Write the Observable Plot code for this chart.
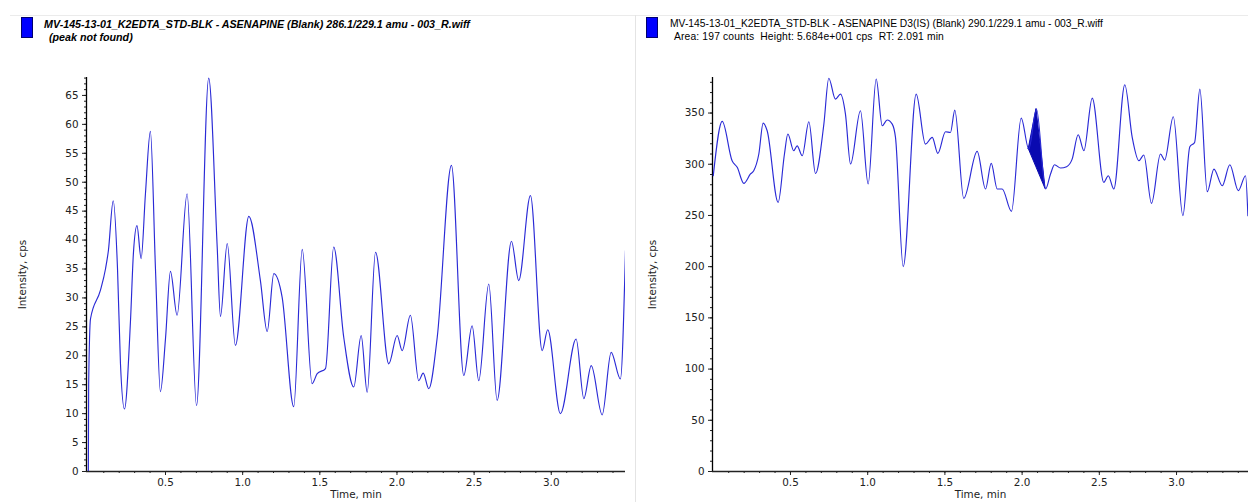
<!DOCTYPE html>
<html><head><meta charset="utf-8">
<script src="https://cdn.jsdelivr.net/npm/d3@7"></script>
<script src="https://cdn.jsdelivr.net/npm/@observablehq/plot@0.6"></script>
<style>
html,body{margin:0;padding:0;background:#fff;}
#root{position:relative;width:1248px;height:502px;overflow:hidden;font-family:"Liberation Sans",Arial,sans-serif;background:#fff;}
.hline{position:absolute;left:10px;top:15px;width:1238px;height:1px;background:#ebebeb;}
.vline{position:absolute;left:635px;top:15px;width:1px;height:487px;background:#e4e4e4;}
.sq{position:absolute;top:17px;width:10px;height:19px;background:#0000ff;border:1px solid #000070;}
.tx{position:absolute;white-space:pre;color:#000;line-height:12px;}
.plot{position:absolute;top:60px;}
</style>
</head><body>
<div id="root">
  <div class="hline"></div>
  <div class="vline"></div>
  <div class="sq" style="left:21px"></div>
  <div class="tx" id="lt1" style="left:44px;top:18px;font-size:10.7px;font-weight:bold;font-style:italic;"></div>
  <div class="tx" id="lt2" style="left:49px;top:31px;font-size:10.7px;font-weight:bold;font-style:italic;"></div>
  <div class="sq" style="left:646px"></div>
  <div class="tx" id="rt1" style="left:670px;top:18px;font-size:10.3px;"></div>
  <div class="tx" id="rt2" style="left:674px;top:31px;font-size:10.3px;letter-spacing:0.15px;"></div>
  <div class="plot" id="left" style="left:0px"></div>
  <div class="plot" id="right" style="left:636px"></div>
</div>
<script>
// ---- text ----
const leftTitle = "MV-145-13-01_K2EDTA_STD-BLK - ASENAPINE (Blank) 286.1/229.1 amu - 003_R.wiff";
const leftSubtitle = "(peak not found)";
const rightTitle = "MV-145-13-01_K2EDTA_STD-BLK - ASENAPINE D3(IS) (Blank) 290.1/229.1 amu - 003_R.wiff";
const rightSubtitle = "Area: 197 counts  Height: 5.684e+001 cps  RT: 2.091 min";
const xLabel = "Time, min";
const yLabel = "Intensity, cps";

// ---- ticks ----
const xTicks = [0.5, 1.0, 1.5, 2.0, 2.5, 3.0];
const leftYTicks = [0, 5, 10, 15, 20, 25, 30, 35, 40, 45, 50, 55, 60, 65];
const rightYTicks = [0, 50, 100, 150, 200, 250, 300, 350];

// ---- left chromatogram (ASENAPINE, peak not found) ----
const leftTime = [0.000, 0.002, 0.014, 0.078, 0.111, 0.130, 0.161, 0.189, 0.208, 0.234, 0.273, 0.292, 0.315, 0.342, 0.370, 0.402, 0.435, 0.467, 0.500, 0.532, 0.575, 0.640, 0.701, 0.780, 0.835, 0.856, 0.900, 0.953, 1.040, 1.115, 1.159, 1.202, 1.256, 1.331, 1.386, 1.450, 1.483, 1.537, 1.590, 1.655, 1.720, 1.768, 1.807, 1.861, 1.947, 2.001, 2.034, 2.087, 2.141, 2.170, 2.206, 2.261, 2.353, 2.433, 2.487, 2.530, 2.595, 2.649, 2.742, 2.789, 2.865, 2.941, 2.977, 3.059, 3.161, 3.211, 3.259, 3.330, 3.388, 3.448, 3.481];
const leftIntensity = [0, 15, 26.4, 31.3, 35, 38.2, 46.8, 35, 18.7, 10.8, 26, 37.7, 42.5, 36.8, 48, 58.8, 35, 13.8, 23, 34.6, 27, 48, 11.4, 68, 38.8, 26.8, 39.4, 21.8, 44.1, 33, 24.2, 34.2, 30.1, 11.2, 38.4, 15.2, 16.9, 17.8, 38.8, 23.2, 14.6, 23.5, 13.7, 37.9, 18.6, 23.5, 20.9, 27, 15.7, 17, 14.3, 23.2, 52.9, 16.6, 25.2, 15.7, 32.4, 12.3, 39.8, 33, 47.7, 20.9, 24.5, 10, 22.9, 12.6, 18.3, 9.8, 20.6, 16, 38.2];

// ---- right chromatogram (ASENAPINE D3 internal standard) ----
const rightTime = [0.000, 0.058, 0.122, 0.155, 0.198, 0.241, 0.262, 0.295, 0.323, 0.349, 0.420, 0.461, 0.483, 0.521, 0.543, 0.576, 0.619, 0.662, 0.716, 0.748, 0.791, 0.824, 0.856, 0.889, 0.953, 1.003, 1.055, 1.094, 1.126, 1.159, 1.180, 1.230, 1.314, 1.374, 1.418, 1.454, 1.504, 1.536, 1.564, 1.622, 1.709, 1.763, 1.800, 1.839, 1.871, 1.931, 1.994, 2.043, 2.093, 2.152, 2.184, 2.210, 2.249, 2.288, 2.324, 2.363, 2.400, 2.454, 2.529, 2.558, 2.594, 2.665, 2.713, 2.756, 2.788, 2.838, 2.896, 2.923, 2.979, 3.041, 3.086, 3.117, 3.151, 3.199, 3.242, 3.296, 3.345, 3.400, 3.447, 3.462];
const rightIntensity = [288.8, 341.8, 303.4, 297, 281.3, 290.5, 293.7, 310, 340.2, 332.7, 262.8, 310, 329.5, 313.2, 318, 308.3, 341.5, 291, 339, 384, 363.6, 368.5, 349, 300.2, 352.2, 280.7, 383.2, 337.6, 343.2, 339.2, 326.2, 200, 368.5, 319.7, 326.2, 310.6, 331.7, 331, 352.9, 266.7, 312.5, 275.8, 300.8, 275.8, 275.8, 254, 345.1, 314.9, 353.9, 275.8, 290.5, 299.5, 296.3, 297.6, 305, 328.8, 313.2, 364.6, 282.3, 288.8, 275.8, 377.6, 326.2, 303.4, 309, 261.8, 310, 304, 346.4, 249.8, 317.1, 321.3, 373.4, 273.2, 295.3, 279, 299.5, 274.2, 288.8, 249.8];

// integrated peak bounds (min)
const peakStart = 2.043;
const peakEnd = 2.152;

const leftData = leftTime.map((t, i) => ({t, v: leftIntensity[i]}));
const rightData = rightTime.map((t, i) => ({t, v: rightIntensity[i]}));

// peak area between trace and straight baseline
const ps = rightData.find(d => d.t === peakStart);
const pe = rightData.find(d => d.t === peakEnd);
const peakData = rightData.filter(d => d.t >= peakStart && d.t <= peakEnd)
  .map(d => ({t: d.t, v: d.v, base: ps.v + (pe.v - ps.v) * (d.t - ps.t) / (pe.t - ps.t)}));

document.getElementById("lt1").textContent = leftTitle;
document.getElementById("lt2").textContent = leftSubtitle;
document.getElementById("rt1").textContent = rightTitle;
document.getElementById("rt2").textContent = rightSubtitle;

const lineColor = "#2a2ad6";
const axisStyle = {fontFamily: "DejaVu Sans, sans-serif", fontSize: "10.4px", color: "#222", background: "transparent", overflow: "visible"};

function chart({data, width, marginLeft, marginRight, xDomain, yDomain, yTicks, yMinor, labelOffsetY, peak}) {
  const xMinor = d3.range(1, 35).map(i => i / 10).filter(v => v <= xDomain[1]);
  const marks = [
    Plot.axisY(yMinor, {tickSize: 2, tickFormat: () => "", label: null}),
    Plot.axisY(yTicks, {tickSize: 4, tickPadding: 4, label: yLabel, labelAnchor: "center", labelArrow: "none", labelOffset: labelOffsetY}),
    Plot.axisX(xMinor, {tickSize: 2, tickFormat: () => "", label: null}),
    Plot.axisX(xTicks, {tickSize: 4, tickPadding: 3, tickFormat: d3.format(".1f"), label: xLabel, labelAnchor: "center", labelArrow: "none", labelOffset: 26}),
    Plot.ruleX([xDomain[0]], {stroke: "#000", strokeWidth: 1.3}),
    Plot.ruleY([0], {stroke: "#222", strokeWidth: 1.3}),
  ];
  if (peak) marks.push(Plot.areaY(peak, {x: "t", y1: "base", y2: "v", fill: "#0a0ab0", stroke: "#0a0ab0", strokeWidth: 1}));
  marks.push(Plot.line(data, {x: "t", y: "v", stroke: lineColor, strokeWidth: 1.15, curve: "monotone-x", clip: true}));
  return Plot.plot({
    width, height: 442, marginTop: 17, marginBottom: 31, marginLeft, marginRight,
    style: axisStyle,
    x: {domain: xDomain},
    y: {domain: yDomain},
    marks
  });
}

document.getElementById("left").append(chart({
  data: leftData, width: 636, marginLeft: 86, marginRight: 11,
  xDomain: [-0.012, 3.481], yDomain: [0, 68.1],
  yTicks: leftYTicks, yMinor: d3.range(0, 69, 1), labelOffsetY: 68
}));
document.getElementById("right").append(chart({
  data: rightData, width: 612, marginLeft: 76, marginRight: 0,
  xDomain: [-0.005, 3.466], yDomain: [0, 384.7],
  yTicks: rightYTicks, yMinor: d3.range(0, 385, 10), labelOffsetY: 64, peak: peakData
}));
</script>
</body></html>
